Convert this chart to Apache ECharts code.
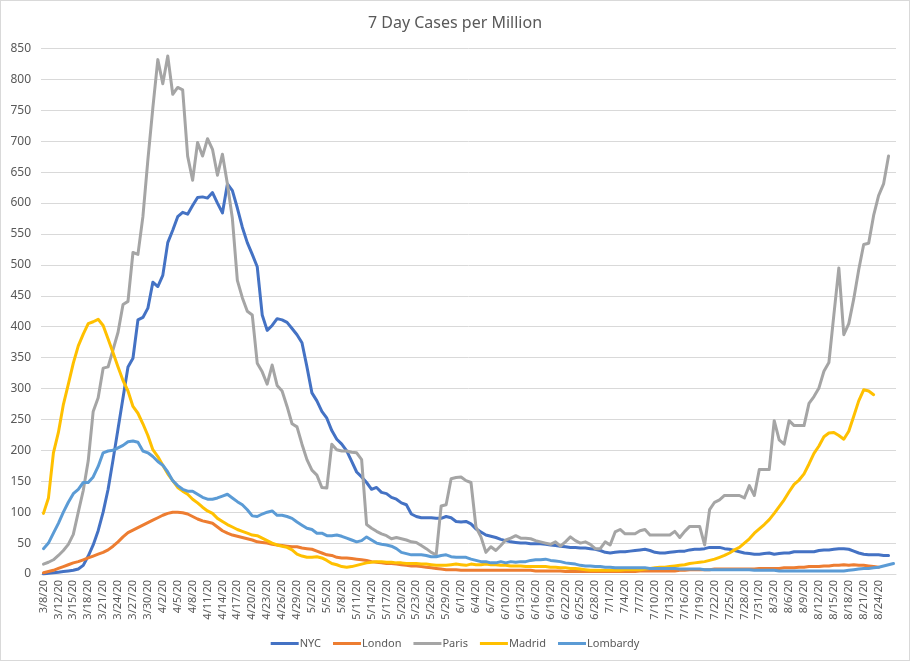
<!DOCTYPE html>
<html>
<head>
<meta charset="utf-8">
<script src="https://cdn.jsdelivr.net/npm/echarts@6/dist/echarts.min.js"></script>
<style>
html,body{margin:0;padding:0;background:#fff;}
#c{width:908px;height:659px;border:1px solid #D9D9D9;}
</style>
</head>
<body>
<div id="c"></div>
<script>
var categories = ['3/8/20','3/10/20','3/11/20','3/12/20','3/13/20','3/14/20','3/15/20','3/16/20','3/17/20','3/18/20','3/19/20','3/20/20','3/21/20','3/22/20','3/23/20','3/24/20','3/25/20','3/26/20','3/27/20','3/28/20','3/29/20','3/30/20','3/31/20',
'4/1/20','4/2/20','4/3/20','4/4/20','4/5/20','4/6/20','4/7/20','4/8/20','4/9/20','4/10/20','4/11/20','4/12/20','4/13/20','4/14/20','4/15/20','4/16/20','4/17/20','4/18/20','4/19/20','4/20/20','4/21/20','4/22/20','4/23/20','4/24/20','4/25/20','4/26/20','4/27/20','4/28/20','4/29/20','4/30/20',
'5/1/20','5/2/20','5/3/20','5/4/20','5/5/20','5/6/20','5/7/20','5/8/20','5/9/20','5/10/20','5/11/20','5/12/20','5/13/20','5/14/20','5/15/20','5/16/20','5/17/20','5/18/20','5/19/20','5/20/20','5/21/20','5/22/20','5/23/20','5/24/20','5/25/20','5/26/20','5/27/20','5/28/20','5/29/20','5/30/20','5/31/20',
'6/1/20','6/2/20','6/3/20','6/4/20','6/5/20','6/6/20','6/7/20','6/8/20','6/9/20','6/10/20','6/11/20','6/12/20','6/13/20','6/14/20','6/15/20','6/16/20','6/17/20','6/18/20','6/19/20','6/20/20','6/21/20','6/22/20','6/23/20','6/24/20','6/25/20','6/26/20','6/27/20','6/28/20','6/29/20','6/30/20',
'7/1/20','7/2/20','7/3/20','7/4/20','7/5/20','7/6/20','7/7/20','7/8/20','7/9/20','7/10/20','7/11/20','7/12/20','7/13/20','7/14/20','7/15/20','7/16/20','7/17/20','7/18/20','7/19/20','7/20/20','7/21/20','7/22/20','7/23/20','7/24/20','7/25/20','7/26/20','7/27/20','7/28/20','7/29/20','7/30/20','7/31/20',
'8/1/20','8/2/20','8/3/20','8/4/20','8/5/20','8/6/20','8/7/20','8/8/20','8/9/20','8/10/20','8/11/20','8/12/20','8/13/20','8/14/20','8/15/20','8/16/20','8/17/20','8/18/20','8/19/20','8/20/20','8/21/20','8/22/20','8/23/20','8/24/20','8/25/20','8/26/20','8/27/20'];

var nyc = [0,1,2,3,4,5,6,8,14,29, 47,70,100,137,185,235,285,335,349,411, 415,430,472,465,483,536,556,578,585,582, 596,609,610,608,617,600,584,631,620,592, 561,536,517,497,419,394,402,413,411,407, 397,387,374,335,293,280,263,252,232,218, 210,199,182,165,157,148,137,140,132,130, 124,121,115,112,97,93,91,91,91,90, 90,93,91,85,84,85,81,73,68,63, 61,59,56,54,52,51,50,50,49,49, 49,48,47,46,45,44,43,43,42,42, 41,40,38,35,34,35,36,36,37,38, 39,40,38,35,34,34,35,36,37,37, 39,40,40,41,43,43,43,41,40,38, 36,34,33,32,32,33,34,32,33,34, 34,36,36,36,36,36,38,39,39,40, 41,41,40,37,34,32,31,31,31,30, 30];

var london = [2,4,6,9,12,15,18,20,23,26, 29,32,35,39,45,52,60,67,71,75, 79,83,87,91,95,98,100,100,99,97, 93,89,86,84,82,76,70,66,63,61, 59,57,55,52,51,50,48,47,46,45, 44,44,42,41,40,37,34,31,30,27, 26,26,25,24,23,22,20,19,18,17, 17,16,15,14,13,13,12,11,10,9, 8,7,7,7,6,6,6,6,6,6, 6,6,6,6,6,6,6,6,6,5, 5,5,5,5,5,4,4,4,4,4, 4,4,4,4,4,4,4,4,4,4, 5,5,5,5,5,5,5,5,6,6, 7,7,7,7,7,8,8,8,8,8, 8,8,8,8,9,9,9,9,9,10, 10,10,11,11,12,12,12,13,13,14, 14,15,14,15,14,14,13,12,11];

var paris = [16,19,23,30,38,48,64,100,135,183, 263,285,333,335,363,391,436,441,520,517, 578,670,754,832,793,838,776,787,783,676, 637,698,676,704,687,645,679,631,575,475, 447,425,419,341,327,307,338,305,296,271, 243,238,210,185,168,160,140,139,210,201, 199,199,197,196,185,80,74,69,65,62, 57,59,57,55,52,51,46,41,35,31, 110,112,154,156,157,151,148,76,60,35, 44,38,46,55,58,62,58,58,57,54, 52,50,48,52,45,52,60,54,50,52, 48,41,41,52,47,68,72,65,65,65, 70,72,63,63,63,63,63,69,59,69, 77,77,77,47,104,116,120,127,127,127, 127,123,143,127,169,169,169,248,217,210, 248,240,240,240,276,287,301,328,342,419, 495,387,405,445,492,533,535,580,612,631, 676];

var madrid = [98,123,196,229,274,307,341,369,388,405, 408,412,402,380,358,335,313,296,271,260, 243,224,201,190,176,162,151,140,134,129, 121,115,108,102,98,90,85,80,76,72, 69,66,63,62,58,54,50,47,45,43, 39,32,29,27,27,28,26,22,17,15, 12,11,12,14,16,18,19,20,20,19, 19,18,18,17,17,17,16,16,15,14, 14,14,15,16,15,14,16,15,15,16, 15,15,14,14,13,13,13,12,12,12, 12,12,11,11,10,10,9,9,8,7, 6,6,6,6,6,6,6,7,7,7, 7,8,9,10,11,11,12,13,14,15, 17,18,19,20,22,24,27,30,34,39, 43,50,57,66,73,80,88,98,109,120, 133,145,152,162,178,195,207,222,228,229, 224,218,231,255,280,298,296,290];

var lombardy = [41,50,66,82,100,116,130,137,148,148, 157,174,196,199,200,204,208,214,215,213, 199,196,190,182,176,165,151,143,137,134, 134,129,124,121,121,123,126,129,123,117, 112,104,94,93,97,100,102,95,95,93, 90,84,79,74,72,66,66,62,62,63, 61,58,55,52,54,60,55,50,48,47, 45,41,35,33,31,31,31,30,28,28, 30,31,28,27,27,27,24,22,20,20, 18,18,20,18,20,19,20,20,22,23, 23,24,22,21,20,18,17,16,14,13, 13,12,12,11,11,10,10,10,10,10, 10,10,9,9,9,9,9,9,8,8, 8,8,8,7,7,7,7,7,7,7, 7,7,7,6,6,6,6,6,5,5, 5,5,5,5,5,5,5,5,5,5, 5,5,6,7,8,9,9,10,11,13, 15,17];

var seriesNames = ['NYC','London','Paris','Madrid','Lombardy'];
var seriesData = [nyc, london, paris, madrid, lombardy];
var colors = ['#4472C4','#ED7D31','#A5A5A5','#FFC000','#5B9BD5'];
var yMax = 850, yStep = 50;

var chart = echarts.init(document.getElementById('c'), null, {renderer:'canvas'});
var FONT = 'Noto Sans';
chart.setOption({
  animation: false,
  color: colors,
  title: {
    text: '7 Day Cases per Million',
    left: 'center',
    top: 9,
    textStyle: {fontFamily: FONT, fontSize: 16, fontWeight: 'normal', color: '#595959'}
  },
  grid: {left: 40, right: 13, top: 47.5, bottom: 86, containLabel: false},
  legend: {
    data: seriesNames,
    left: 'center',
    top: 632,
    icon: 'rect',
    itemWidth: 28,
    itemHeight: 3,
    itemGap: 12,
    textStyle: {fontFamily: FONT, fontSize: 11, color: '#595959', padding: [0,0,0,-4]}
  },
  xAxis: {
    type: 'category',
    data: categories,
    boundaryGap: true,
    axisLine: {show: true, lineStyle: {color: '#D9D9D9', width: 1}},
    axisTick: {show: false},
    splitLine: {show: false},
    axisLabel: {
      rotate: 90,
      interval: function (idx) { return idx % 3 === 0 && idx < 171; },
      fontFamily: FONT,
      fontSize: 11,
      color: '#595959',
      margin: 6
    }
  },
  yAxis: {
    type: 'value',
    min: 0,
    max: yMax,
    interval: yStep,
    axisLine: {show: false},
    axisTick: {show: false},
    splitLine: {lineStyle: {color: '#D9D9D9', width: 1}},
    axisLabel: {fontFamily: FONT, fontSize: 12, color: '#595959', margin: 10}
  },
  series: seriesNames.map(function (n, i) {
    return {
      name: n,
      type: 'line',
      data: seriesData[i],
      symbol: 'none',
      showSymbol: false,
      smooth: false,
      lineStyle: {width: 3, color: colors[i], join: 'round', cap: 'round'},
      itemStyle: {color: colors[i]}
    };
  })
});
</script>
</body>
</html>
